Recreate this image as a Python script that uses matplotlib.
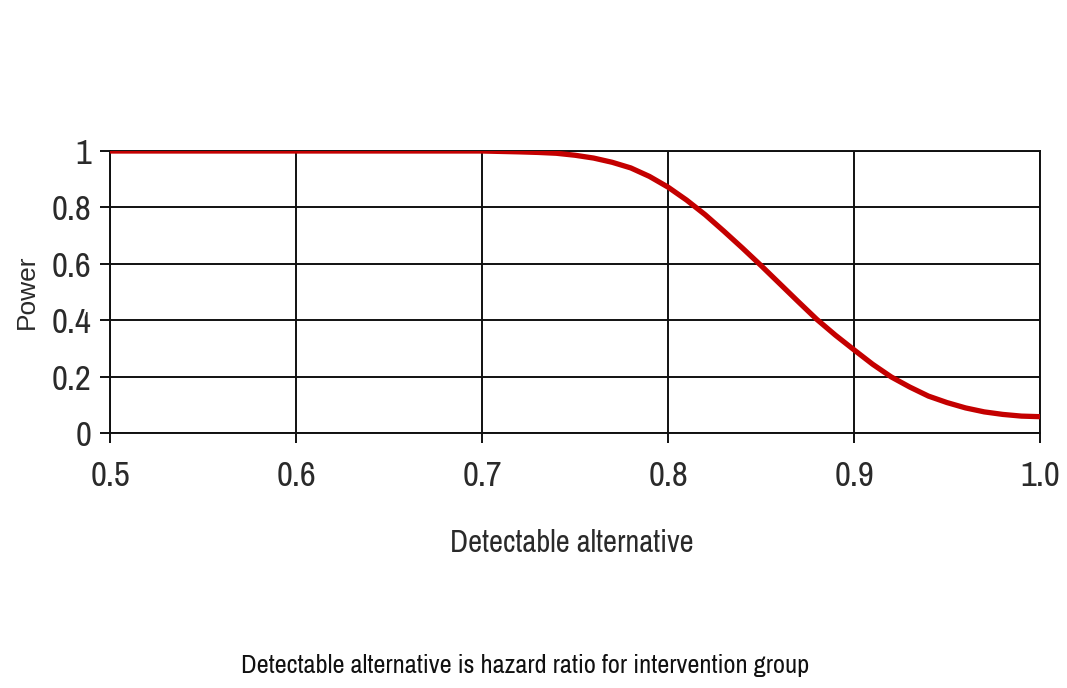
import matplotlib
matplotlib.use('Agg')
import matplotlib.pyplot as plt

# power against detectable hazard ratio
hazard_ratio = [0.50, 0.60, 0.70, 0.72, 0.73, 0.74, 0.75, 0.76, 0.77, 0.78,
                0.79, 0.80, 0.81, 0.82, 0.83, 0.84, 0.85, 0.86, 0.87, 0.88,
                0.89, 0.90, 0.91, 0.92, 0.93, 0.94, 0.95, 0.96, 0.97, 0.98,
                0.99, 1.00]
power = [1.0, 1.0, 1.0, 0.997, 0.995, 0.992, 0.985, 0.975, 0.960, 0.940,
         0.910, 0.872, 0.826, 0.774, 0.716, 0.656, 0.594, 0.530, 0.466, 0.403,
         0.347, 0.295, 0.244, 0.199, 0.163, 0.131, 0.108, 0.089, 0.075, 0.066,
         0.060, 0.058]

xticks = [0.5, 0.6, 0.7, 0.8, 0.9, 1.0]
xticklabels = ['0.5', '0.6', '0.7', '0.8', '0.9', '1.0']
yticks = [0, 0.2, 0.4, 0.6, 0.8, 1]
yticklabels = ['0', '0.2', '0.4', '0.6', '0.8', '1']

narrow = 'Archivo Narrow'
regular = 'Liberation Sans'
ink = '#2a2a2a'

fig = plt.figure(figsize=(10.67, 6.88), dpi=100)
ax = fig.add_axes([0.1031, 0.3706, 0.8716, 0.4099])

# the flat stretch at 1 sits on the top edge, so half of it gets clipped
ax.plot(hazard_ratio, power, color='#c40000', lw=3.8, zorder=5,
        solid_joinstyle='round', solid_capstyle='butt')

ax.set_xlim(0.5, 1.0)
ax.set_ylim(0, 1)
ax.set_xticks(xticks)
ax.set_xticklabels(xticklabels, fontfamily=narrow, fontsize=25, color=ink)
ax.set_yticks(yticks)
ax.set_yticklabels(yticklabels, fontfamily=narrow, fontsize=25, color=ink)
ax.tick_params(direction='out', length=7.5, width=1.4, color='#111111')
ax.tick_params(axis='x', pad=12)
ax.tick_params(axis='y', pad=6)

ax.grid(True, color='#111111', lw=1.4)
ax.set_axisbelow(True)
for s in ax.spines.values():
    s.set_color('#111111')
    s.set_linewidth(1.4)

ax.set_ylabel('Power', fontfamily=regular, fontsize=19, color=ink, labelpad=9)

fig.text(0.536, 0.211, 'Detectable alternative', fontfamily=narrow, fontsize=22,
         color=ink, ha='center', va='center')
fig.text(0.4925, 0.033, 'Detectable alternative is hazard ratio for intervention group',
         fontfamily=narrow, fontsize=19, color='#111111', ha='center', va='center')

fig.savefig('out.png', dpi=100, facecolor='white')
